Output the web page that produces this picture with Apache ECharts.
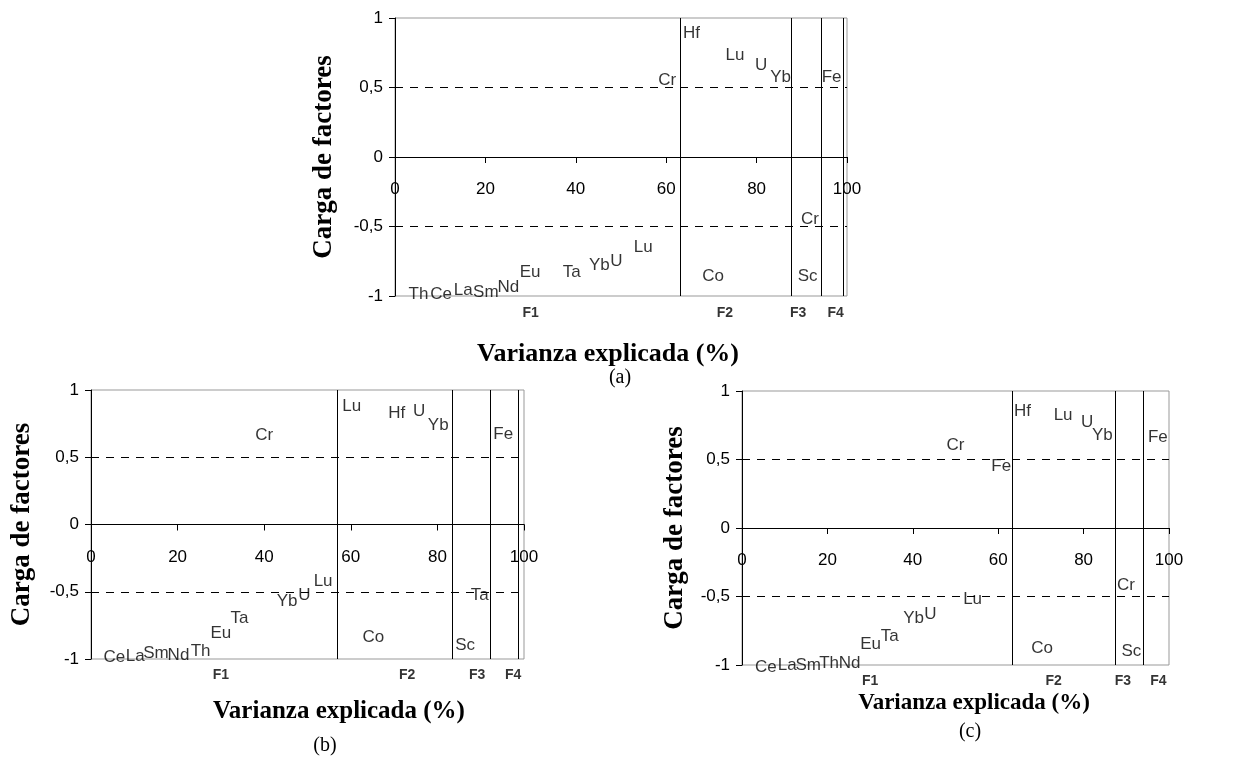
<!DOCTYPE html>
<html>
<head>
<meta charset="utf-8">
<script src="https://cdn.jsdelivr.net/npm/echarts@6/dist/echarts.min.js"></script>
<style>
  html, body { margin: 0; padding: 0; background: #fff; }
  #chart { width: 1241px; height: 768px; }
</style>
</head>
<body>
<div id="chart"></div>
<script>
'use strict';

// panel (a)
const elemA = ['Hf', 'Lu', 'U', 'Yb', 'Fe', 'Cr', 'Cr', 'Sc', 'Co', 'Lu', 'U', 'Yb', 'Ta', 'Eu', 'Nd', 'Sm', 'La', 'Ce', 'Th'];
const varA = [65.6, 75.2, 81.0, 85.3, 96.6, 60.2, 91.8, 91.3, 70.4, 54.9, 49.0, 45.2, 39.1, 29.9, 25.1, 20.1, 15.1, 10.2, 5.2];
const loadA = [0.89, 0.73, 0.66, 0.57, 0.57, 0.55, -0.45, -0.86, -0.86, -0.65, -0.75, -0.78, -0.83, -0.83, -0.94, -0.97, -0.96, -0.99, -0.99];
const divA = [63.1, 87.6, 94.2, 99.2];

// panel (b)
const elemB = ['Lu', 'Hf', 'U', 'Yb', 'Fe', 'Cr', 'Ta', 'Sc', 'Co', 'Lu', 'U', 'Yb', 'Ta', 'Eu', 'Th', 'Nd', 'Sm', 'La', 'Ce'];
const varB = [60.2, 70.6, 75.8, 80.2, 95.2, 40.0, 89.8, 86.4, 65.2, 53.6, 49.3, 45.3, 34.3, 30.0, 25.3, 20.2, 15.0, 10.2, 5.4];
const loadB = [0.88, 0.83, 0.84, 0.74, 0.67, 0.66, -0.53, -0.9, -0.84, -0.42, -0.53, -0.57, -0.7, -0.81, -0.94, -0.97, -0.96, -0.98, -0.99];
const divB = [56.9, 83.4, 92.1, 98.7];

// panel (c)
const elemC = ['Hf', 'Lu', 'U', 'Yb', 'Fe', 'Cr', 'Fe', 'Cr', 'Sc', 'Co', 'Lu', 'U', 'Yb', 'Ta', 'Eu', 'Nd', 'Th', 'Sm', 'La', 'Ce'];
const varC = [65.7, 75.2, 80.8, 84.4, 97.4, 50.0, 60.7, 89.9, 91.2, 70.3, 54.0, 44.1, 40.2, 34.6, 30.1, 25.2, 20.4, 15.5, 10.6, 5.6];
const loadC = [0.85, 0.82, 0.77, 0.68, 0.66, 0.6, 0.45, -0.42, -0.9, -0.88, -0.52, -0.63, -0.66, -0.79, -0.85, -0.99, -0.99, -1.0, -1.0, -1.02];
const divC = [63.2, 87.3, 93.9];

// factor names under each panel
const factors = ['F1', 'F2', 'F3', 'F4'];
const factorX = [30, 73, 89.2, 97.5];
const factorY = -1.12;

const dashedY = [0.5, -0.5];

const sans = '"Liberation Sans", Arial, sans-serif';
const serif = '"Liberation Serif", "Times New Roman", serif';

const grids = [
  { left: 395, top: 18, width: 452, height: 278 },
  { left: 91, top: 390, width: 433, height: 269 },
  { left: 742, top: 391, width: 427, height: 274 }
];
const nameGaps = [57, 55, 53];

function pts(names, xs, ys) {
  return names.map((n, i) => ({ name: n, value: [xs[i], ys[i]] }));
}

function makeAxes(i) {
  // the x axis sits on the zero line, half way up the grid
  const x = {
    type: 'value', gridIndex: i, min: 0, max: 100, interval: 20,
    position: 'bottom', offset: -grids[i].height / 2,
    axisLine: { onZero: false, lineStyle: { color: '#000', width: 1 } },
    axisTick: { length: 6, lineStyle: { color: '#000' } },
    axisLabel: { margin: 24, color: '#000', fontSize: 17, fontFamily: sans },
    splitLine: { show: false }
  };
  const y = {
    type: 'value', gridIndex: i, min: -1, max: 1, interval: 0.5,
    name: 'Carga de factores', nameLocation: 'middle', nameRotate: 90, nameGap: nameGaps[i],
    nameTextStyle: { fontFamily: serif, fontWeight: 'bold', fontSize: 27, color: '#000' },
    axisLine: { show: true, onZero: false, lineStyle: { color: '#000', width: 1 } },
    axisTick: { show: true, length: 6, lineStyle: { color: '#000' } },
    axisLabel: {
      margin: 12, color: '#000', fontSize: 17, fontFamily: sans,
      formatter: v => String(v).replace('.', ',')
    },
    splitLine: { show: false }
  };
  return [x, y];
}

function makeSeries(i, names, xs, ys, divs) {
  const lines = divs.map(v => ({ xAxis: v, lineStyle: { type: 'solid', color: '#000', width: 1 } }))
    .concat(dashedY.map(v => ({ yAxis: v, lineStyle: { type: [8, 7], color: '#000', width: 1 } })));
  return [
    {
      type: 'scatter', xAxisIndex: i, yAxisIndex: i, clip: false,
      data: pts(names, xs, ys),
      symbolSize: 1,
      itemStyle: { color: 'rgba(0,0,0,0)' },
      label: {
        show: true, position: 'inside', formatter: '{b}',
        color: '#000', fontSize: 17, fontFamily: sans
      },
      emphasis: { disabled: true },
      markLine: { silent: true, symbol: 'none', label: { show: false }, data: lines },
      z: 3
    },
    {
      type: 'scatter', xAxisIndex: i, yAxisIndex: i, clip: false,
      data: factors.map((f, k) => ({ name: f, value: [factorX[k], factorY] })),
      symbolSize: 1,
      itemStyle: { color: 'rgba(0,0,0,0)' },
      label: {
        show: true, position: 'inside', formatter: '{b}',
        color: '#000', fontSize: 14, fontWeight: 'bold', fontFamily: sans
      },
      emphasis: { disabled: true }
    }
  ];
}

const xAxes = [], yAxes = [];
for (let i = 0; i < 3; i++) {
  const [x, y] = makeAxes(i);
  xAxes.push(x);
  yAxes.push(y);
}

const chart = echarts.init(document.getElementById('chart'), null, { renderer: 'canvas' });
chart.setOption({
  backgroundColor: '#fff',
  animation: false,
  grid: grids.map(g => ({ ...g, show: true, borderColor: '#999', borderWidth: 1, backgroundColor: 'transparent' })),
  xAxis: xAxes,
  yAxis: yAxes,
  series: [
    ...makeSeries(0, elemA, varA, loadA, divA),
    ...makeSeries(1, elemB, varB, loadB, divB),
    ...makeSeries(2, elemC, varC, loadC, divC)
  ],
  graphic: [
    { type: 'text', x: 608, y: 354, style: { text: 'Varianza explicada (%)', font: 'bold 26px ' + serif, fill: '#000', textAlign: 'center', textVerticalAlign: 'middle' } },
    { type: 'text', x: 620, y: 378, style: { text: '(a)', font: '20px ' + serif, fill: '#000', textAlign: 'center', textVerticalAlign: 'middle' } },
    { type: 'text', x: 339, y: 712, style: { text: 'Varianza explicada (%)', font: 'bold 25px ' + serif, fill: '#000', textAlign: 'center', textVerticalAlign: 'middle' } },
    { type: 'text', x: 325, y: 746, style: { text: '(b)', font: '20px ' + serif, fill: '#000', textAlign: 'center', textVerticalAlign: 'middle' } },
    { type: 'text', x: 974, y: 703, style: { text: 'Varianza explicada (%)', font: 'bold 23px ' + serif, fill: '#000', textAlign: 'center', textVerticalAlign: 'middle' } },
    { type: 'text', x: 970, y: 732, style: { text: '(c)', font: '20px ' + serif, fill: '#000', textAlign: 'center', textVerticalAlign: 'middle' } }
  ]
});
</script>
</body>
</html>
